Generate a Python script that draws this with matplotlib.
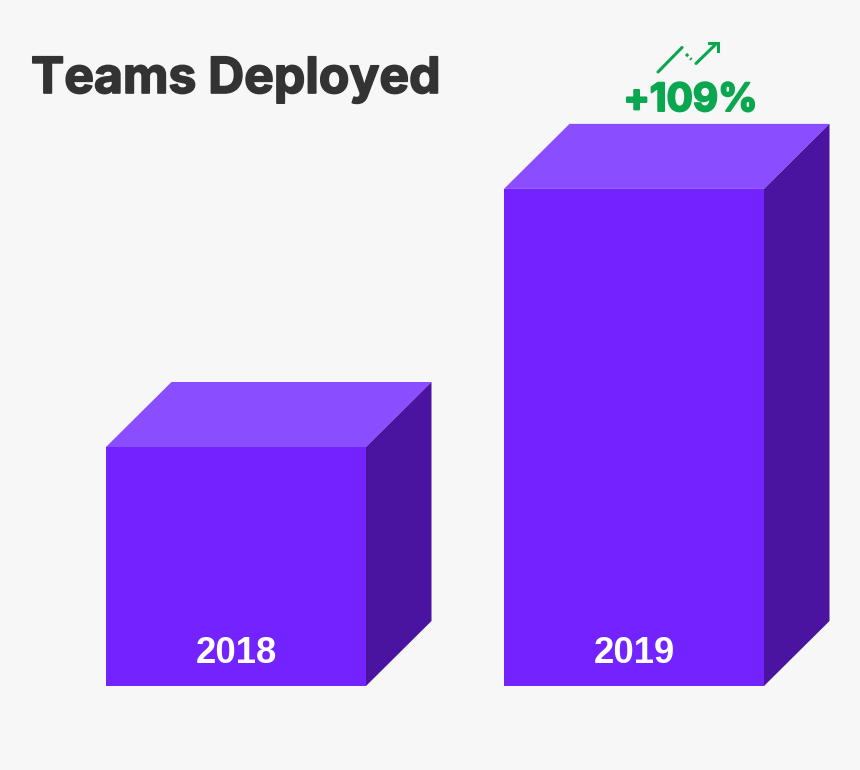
import matplotlib.pyplot as plt
import matplotlib.patheffects as pe
from matplotlib.patches import Polygon

years = ["2018", "2019"]
teams = [100, 208]
change_label = "+109%"
title = "Teams Deployed"

BG = "#f7f7f7"
FRONT = "#7223ff"
TOP = "#8a4dff"
SIDE = "#4a14a0"
GREEN = "#0aa650"

# scale of the picture: one category step = 398 px, one value unit = 2.39 px
X_STEP = 398.0
Y_UNIT = 2.39
BAR_W = 260 / X_STEP
DEPTH_X = 65.5 / X_STEP
DEPTH_Y = 65 / Y_UNIT

fig = plt.figure(figsize=(8.6, 7.7), dpi=100, facecolor=BG)
ax = fig.add_axes([0, 0, 1, 1])
ax.set_xlim(-236 / X_STEP, (860 - 236) / X_STEP)
ax.set_ylim(-84 / Y_UNIT, 686 / Y_UNIT)
ax.axis("off")

positions = range(len(years))
ax.bar(positions, teams, width=BAR_W, color=FRONT, linewidth=0)

for pos, value, year in zip(positions, teams, years):
    left = pos - BAR_W / 2
    right = pos + BAR_W / 2
    top_face = [
        (left, value),
        (right, value),
        (right + DEPTH_X, value + DEPTH_Y),
        (left + DEPTH_X, value + DEPTH_Y),
    ]
    side_face = [
        (right, 0),
        (right + DEPTH_X, DEPTH_Y),
        (right + DEPTH_X, value + DEPTH_Y),
        (right, value),
    ]
    ax.add_patch(Polygon(top_face, closed=True, facecolor=TOP, linewidth=0))
    ax.add_patch(Polygon(side_face, closed=True, facecolor=SIDE, linewidth=0))
    ax.text(pos, 13.4, year, color="white", fontsize=26.3, fontweight="bold",
            family="Liberation Sans", ha="center", va="center")

# overlay in pixel coordinates for the title and the little trend icon
px = fig.add_axes([0, 0, 1, 1])
px.set_xlim(0, 860)
px.set_ylim(770, 0)
px.axis("off")
px.patch.set_alpha(0)

# Inter bold is a little lighter than the original face, so add a thin stroke
title_text = px.text(31, 93, title, color="#333333", fontsize=35.9,
                     fontweight="bold", family="Inter", ha="left", va="baseline")
title_text.set_path_effects([pe.withStroke(linewidth=1.2, foreground="#333333")])
change_text = px.text(690.5, 111, change_label, color=GREEN, fontsize=28,
                      fontweight="bold", family="Inter", ha="center", va="baseline")
change_text.set_path_effects([pe.withStroke(linewidth=1.4, foreground=GREEN)])

px.plot([658, 682], [72, 47.5], color=GREEN, lw=2.2, solid_capstyle="round")
px.plot([686, 691.5], [54, 59.5], color=GREEN, lw=2.2, ls=(0, (1, 1)))
px.plot([696, 716], [63.5, 44], color=GREEN, lw=2.2, solid_capstyle="round")
px.plot([709, 718, 718], [42.5, 42.5, 51], color=GREEN, lw=2.2,
        solid_joinstyle="miter")

fig.savefig("out.png", dpi=100, facecolor=BG)
